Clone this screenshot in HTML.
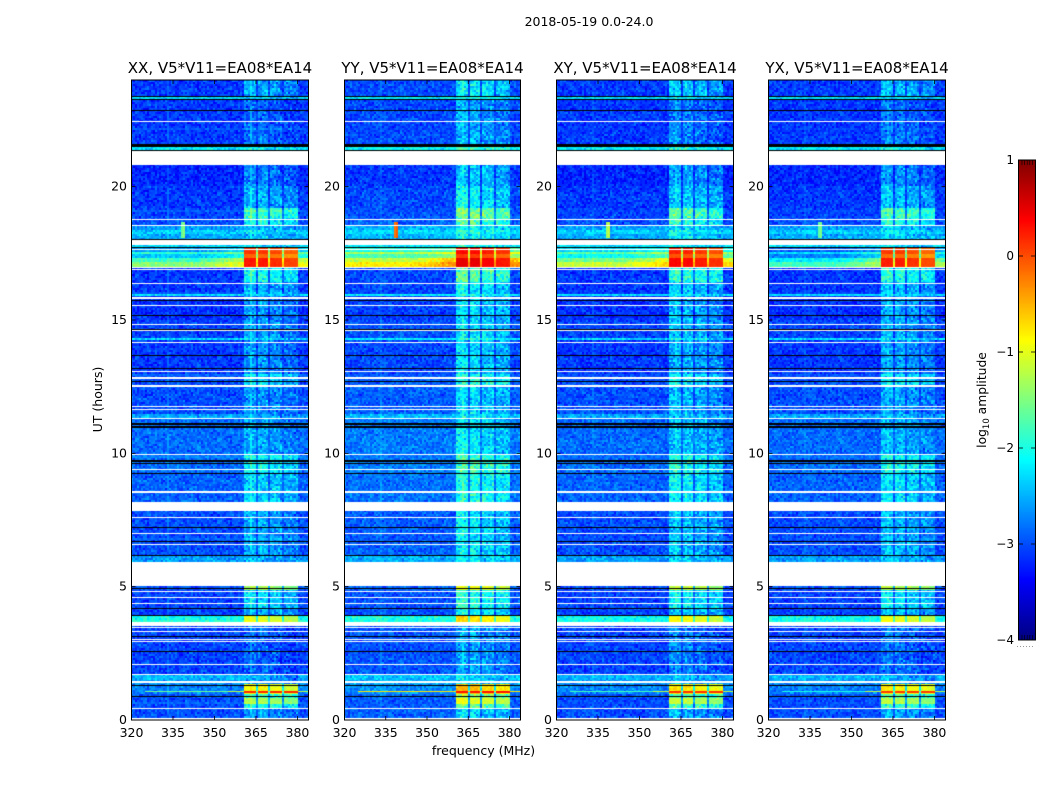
<!DOCTYPE html>
<html lang="en">
<head>
<meta charset="utf-8">
<title>2018-05-19 spectrogram panels</title>
<style>
html,body{margin:0;padding:0;background:#fff;}
#figure{position:relative;width:1050px;height:800px;overflow:hidden;background:#fff;}
canvas{position:absolute;}
svg{position:absolute;left:0;top:0;}
text{font-family:"DejaVu Sans","Liberation Sans",sans-serif;fill:#000;}
</style>
</head>
<body>
<div id="figure">
<canvas id="cv0"></canvas>
<canvas id="cv1"></canvas>
<canvas id="cv2"></canvas>
<canvas id="cv3"></canvas>
<canvas id="cvbar"></canvas>
<svg id="ov" width="1050" height="800" viewBox="0 0 1050 800">
<text x="589" y="26" font-size="12.5" text-anchor="middle">2018-05-19 0.0-24.0</text>
<text x="483.5" y="755" font-size="12.5" text-anchor="middle">frequency (MHz)</text>
<text transform="translate(102,399.5) rotate(-90)" font-size="12.5" text-anchor="middle">UT (hours)</text>
<text transform="translate(986,400) rotate(-90)" font-size="12.3" text-anchor="middle">log<tspan font-size="8.5" dy="3">10</tspan><tspan dy="-3"> amplitude</tspan></text>
</svg>
</div>
<script>
/* ---- chart data ---- */
var panelTitles = ["XX, V5*V11=EA08*EA14","YY, V5*V11=EA08*EA14","XY, V5*V11=EA08*EA14","YX, V5*V11=EA08*EA14"];
var freqTicks = [320,335,350,365,380];
var hourTicks = [0,5,10,15,20];
var colorTicks = [1,0,-1,-2,-3,-4];

/* spectral windows (MHz) */
var windowStart = [360.4,365.8,370.5,375.6];
var windowEnd = [365.0,369.8,374.9,380.0];
var windowTrim = [0.02,0.02,-0.08,-0.2];

/* time segments: start hour, log10 amplitude off-band, log10 amplitude in-band, ramp toward band, strong-RFI flag */
var segmentStart = [0,0.47,0.6,0.85,0.98,1.37,1.48,1.72,3.69,3.88,4.2,4.9,5.04,5.91,6.17,8.19,9.3,10,11,11.3,11.5,12.5,13,14.26,14.33,15,15.87,15.95,16.4,16.97,17.2,17.3,17.45,17.5,17.55,17.72,18,18.2,18.4,18.55,18.8,19.2,20,20.82,21.35,21.5,22.45,23.26,23.38];
var segmentOff   = [-3.0,-3.0,-3.0,-2.95,-2.75,-2.6,-2.5,-3.05,-2.05,-3.05,-3.05,-3.0,-2.6,-2.6,-3.0,-2.9,-2.85,-2.85,-2.85,-2.55,-3.0,-3.0,-3.1,-2.3,-3.05,-3.15,-2.25,-3.1,-3.1,-1.45,-1.85,-2.4,-2.5,-1.95,-2.6,-2.3,-2.55,-2.35,-2.6,-3.0,-3.05,-3.1,-3.2,-2.5,-2.2,-3.1,-3.1,-2.3,-3.1];
var segmentBand  = [-2.65,-1.95,-1.3,-1.8,-0.9,-2.65,-2.6,-2.9,-1.05,-2.5,-2.3,-1.3,-2.65,-2.55,-2.55,-2.35,-2.15,-2.55,-2.6,-2.55,-2.65,-2.3,-2.65,-2.3,-2.6,-2.65,-2.3,-2.5,-2.05,0.25,0.25,-0.15,0.1,0.1,0.1,-2.3,-2.4,-2.3,-2.45,-2.1,-1.85,-2.5,-2.75,-2.65,-2.2,-2.85,-2.9,-2.35,-2.55];
var segmentRise  = [0,0,0,0,0,0,0,0,0,0,0,0,0,0,0,0,0,0,0,0,0,0,0,0,0,0,0,0,0,0.5,0.6,0.4,0.3,0.4,0.3,0,0,0,0,0,0,0,0,0,0,0,0,0,0];
var segmentStrong= [0,0,0,0,0,0,0,0,0,0,0,0,0,0,0,0,0,0,0,0,0,0,0,0,0,0,0,0,0,1,1,1,1,1,1,0,0,0,0,0,0,0,0,0,0,0,0,0,0];

/* per-polarisation adjustments (XX, YY, XY, YX) */
var panelBandGain = [0,0.32,0.12,0.06];
var panelOffGain = [0,0.08,0,0];
var panelStrongOff = [0,0.55,0.3,-0.35];
var panelStrongBand = [0,0.12,0.05,-0.05];

/* narrowband RFI */
var spikeFreq = 339;
var spikeFrom = 18.05;
var spikeTo = 18.65;
var spikeLevel = [-1.25,0.15,-0.95,-1.3];
var lineHour = 1.1;
var lineOff = [-1.6,-0.75,-1.8,-2.0];
var lineBand = [0.2,0.3,0.15,0.1];

/* flagged times (hours) */
var whiteLines = [22.45,18.78,18.55,17.63,16.96,16.88,16.37,15.56,14.85,14.59,14.14,13.06,12.56,12.50,11.76,11.66,11.29,9.94,8.58,8.52,7.60,6.98,6.57,4.83,4.58,4.36,3.48,3.32,3.02,2.94,2.07,1.72,0.44,0.07,0.02];
var blackLines = [23.38,23.26,22.86,21.36,18.03,17.73,15.72,15.16,14.64,13.66,13.17,12.70,9.61,9.25,7.23,6.69,6.17,4.93,4.17,3.92,3.13,2.56,2.08,1.28,0.89];
var gapStart = [20.82,17.80,15.80,12.80,9.36,7.85,5.04,3.54,1.38];
var gapEnd = [21.35,18.00,15.87,12.88,9.43,8.19,5.91,3.69,1.48];
var darkStart = [21.50,11.07,10.96,9.69];
var darkEnd = [21.59,11.13,11.01,9.76];

/* fine-grain texture table for the cell noise (log10 offsets) */
var speckle = [0.12,-0.34,0.28,-0.08,0.41,-0.22,0.05,-0.41,0.19,0.33,-0.15,-0.29,0.09,0.37,-0.05,-0.38,0.24,-0.12,0.46,-0.26,0.02,0.16,-0.44,0.31,-0.18,0.07,-0.31,0.22,0.39,-0.09,-0.24,0.14,-0.36,0.27,-0.02,0.34,-0.2,-0.47,0.11,0.2,-0.13];

/* ---- layout and scales ---- */
var panelLeft = [131,344,556,768];
var panelWidth = [177,176,177,177];
var plotTop = 80;
var plotHeight = 640;
var freqMin = 320, freqMax = 384, hourMin = 0, hourMax = 24;
var barLeft = 1019, barTop = 160, barWidth = 16, barHeight = 480;
var NS = "http://www.w3.org/2000/svg";
var ov = document.getElementById("ov");

function xScale(f, w){ return (f - freqMin) / (freqMax - freqMin) * w; }
function yScale(h){ return plotHeight - (h - hourMin) / (hourMax - hourMin) * plotHeight; }
function levelY(v){ return barTop + (1 - v) / 5 * barHeight; }
function clamp(v){ return v < 0 ? 0 : v > 1 ? 1 : v; }
function jet(level){
  var v = clamp((level + 4) / 5);
  var r = clamp(1.5 - Math.abs(4 * v - 3));
  var g = clamp(1.5 - Math.abs(4 * v - 2));
  var b = clamp(1.5 - Math.abs(4 * v - 1));
  return "rgb(" + Math.round(r * 255) + "," + Math.round(g * 255) + "," + Math.round(b * 255) + ")";
}
function segmentAt(h){
  var k = 0;
  for (var s = 0; s < segmentStart.length; s++) { if (h >= segmentStart[s]) k = s; }
  return k;
}
function windowAt(f){
  for (var b = 0; b < windowStart.length; b++) { if (f >= windowStart[b] && f <= windowEnd[b]) return b; }
  return -1;
}
function cellNoise(i, j, p){
  var n = speckle.length;
  var a = speckle[(i * 17 + j * j * 5 + i * j * 3 + p * 11) % n];
  var b = speckle[(j * 23 + i * i * 7 + i * j + p * 5) % n];
  return (a + b) * 0.75;
}
function cellLevel(p, f, h, i, j){
  var k = segmentAt(h);
  var strong = segmentStrong[k];
  var off = segmentOff[k] + panelOffGain[p] + (strong ? panelStrongOff[p] : 0);
  if (f > 345) off += segmentRise[k] * Math.min(1, (f - 345) / 15);
  var win = windowAt(f);
  var level, noise = cellNoise(i, j, p);
  if (win >= 0) {
    level = segmentBand[k] + windowTrim[win] + panelBandGain[p] * (strong ? 0.3 : 1) + (strong ? panelStrongBand[p] : 0);
    noise *= strong ? 0.1 : (segmentBand[k] > -1.5 ? 0.3 : 0.8);
  } else if (f > windowStart[0] && f < windowEnd[3]) {
    level = Math.max(off, off * 0.6 + (segmentBand[k] - 0.6) * 0.4);
    noise *= strong ? 0.2 : 0.4;
  } else {
    level = off;
    noise *= strong ? 0.4 : 0.55;
  }
  if (Math.abs(f - spikeFreq) < 0.7 && h >= spikeFrom && h <= spikeTo) {
    level = spikeLevel[p] - Math.abs(f - spikeFreq) * 0.8;
    noise = 0;
  }
  return level + noise;
}

/* ---- heatmaps ---- */
panelLeft.forEach(function(left, p){
  var w = panelWidth[p];
  var cv = document.getElementById("cv" + p);
  cv.width = w; cv.height = plotHeight;
  cv.style.left = left + "px"; cv.style.top = plotTop + "px";
  var c = cv.getContext("2d");
  c.fillStyle = "#fff"; c.fillRect(0, 0, w, plotHeight);
  var nChan = 88, nRow = 320;
  for (var j = 0; j < nRow; j++) {
    var h0 = hourMin + j * (hourMax - hourMin) / nRow;
    var h1 = hourMin + (j + 1) * (hourMax - hourMin) / nRow;
    var yTop = Math.round(yScale(h1)), yBot = Math.round(yScale(h0));
    for (var i = 0; i < nChan; i++) {
      var f0 = freqMin + i * (freqMax - freqMin) / nChan;
      var f1 = freqMin + (i + 1) * (freqMax - freqMin) / nChan;
      var x0 = Math.round(xScale(f0, w)), x1 = Math.round(xScale(f1, w));
      c.fillStyle = jet(cellLevel(p, (f0 + f1) / 2, (h0 + h1) / 2, i, j));
      c.fillRect(x0, yTop, x1 - x0, yBot - yTop);
    }
  }
  /* narrowband line */
  for (var n = 0; n < nChan; n++) {
    var fa = freqMin + n * (freqMax - freqMin) / nChan;
    var fb = freqMin + (n + 1) * (freqMax - freqMin) / nChan;
    var fm = (fa + fb) / 2;
    if (fm < 325) continue;
    var inWin = windowAt(fm) >= 0;
    var rampLevel = fm > 355 ? -1.2 : lineOff[p];
    c.fillStyle = jet(inWin ? lineBand[p] : Math.max(rampLevel, lineOff[p]));
    c.fillRect(Math.round(xScale(fa, w)), Math.round(yScale(lineHour)), Math.round(xScale(fb, w)) - Math.round(xScale(fa, w)), inWin ? 2 : 1);
  }
  /* flags */
  c.fillStyle = "#000";
  blackLines.forEach(function(h){ c.fillRect(0, Math.floor(yScale(h)), w, 1); });
  darkStart.forEach(function(h, q){ var a = Math.round(yScale(darkEnd[q])), b = Math.round(yScale(h)); c.fillRect(0, a, w, b - a); });
  c.fillStyle = "#fff";
  whiteLines.forEach(function(h){ c.fillRect(0, Math.floor(yScale(h)), w, 1); });
  gapStart.forEach(function(h, q){ var a = Math.round(yScale(gapEnd[q])), b = Math.round(yScale(h)); c.fillRect(0, a, w, b - a); });

  /* frame, title, ticks */
  var frame = document.createElementNS(NS, "rect");
  
  
  frame.setAttribute("x", left + 0.5); frame.setAttribute("y", plotTop);
  frame.setAttribute("width", w); frame.setAttribute("height", plotHeight);
  frame.setAttribute("fill", "none"); frame.setAttribute("stroke", "#000"); frame.setAttribute("stroke-width", "1");
  ov.appendChild(frame);

  var title = document.createElementNS(NS, "text");
  
  
  title.setAttribute("x", left + w / 2 + 0.5); title.setAttribute("y", 73);
  title.setAttribute("font-size", "15"); title.setAttribute("text-anchor", "middle");
  title.textContent = panelTitles[p];
  ov.appendChild(title);

  freqTicks.forEach(function(f){
    var x = left + xScale(f, w) + 0.5;
    [[plotTop + plotHeight, plotTop + plotHeight - 4], [plotTop, plotTop + 4]].forEach(function(seg){
      var t = document.createElementNS(NS, "line");
      
      
      t.setAttribute("x1", x); t.setAttribute("x2", x); t.setAttribute("y1", seg[0]); t.setAttribute("y2", seg[1]);
      t.setAttribute("stroke", "#000"); t.setAttribute("stroke-width", "0.8");
      ov.appendChild(t);
    });
    var lab = document.createElementNS(NS, "text");
    
    
    lab.setAttribute("x", x); lab.setAttribute("y", 737);
    lab.setAttribute("font-size", "12.5"); lab.setAttribute("text-anchor", "middle");
    lab.textContent = String(f);
    ov.appendChild(lab);
  });
  hourTicks.forEach(function(hr){
    var y = plotTop + yScale(hr);
    [[left, left + 4], [left + w, left + w - 4]].forEach(function(seg){
      var t = document.createElementNS(NS, "line");
      
      
      t.setAttribute("x1", seg[0] + 0.5); t.setAttribute("x2", seg[1] + 0.5); t.setAttribute("y1", y); t.setAttribute("y2", y);
      t.setAttribute("stroke", "#000"); t.setAttribute("stroke-width", "0.8");
      ov.appendChild(t);
    });
    var lab = document.createElementNS(NS, "text");
    
    
    lab.setAttribute("x", left - 4); lab.setAttribute("y", y + 4);
    lab.setAttribute("font-size", "12.5"); lab.setAttribute("text-anchor", "end");
    lab.textContent = String(hr);
    ov.appendChild(lab);
  });
});

/* ---- colorbar ---- */
(function(){
  var cv = document.getElementById("cvbar");
  cv.width = barWidth; cv.height = barHeight;
  cv.style.left = barLeft + "px"; cv.style.top = barTop + "px";
  var c = cv.getContext("2d");
  for (var y = 0; y < barHeight; y++) {
    c.fillStyle = jet(1 - (y + 0.5) / barHeight * 5);
    c.fillRect(0, y, barWidth, 1);
  }
  var frame = document.createElementNS(NS, "rect");
  
  
  frame.setAttribute("x", barLeft - 0.5); frame.setAttribute("y", barTop);
  frame.setAttribute("width", barWidth + 1); frame.setAttribute("height", barHeight);
  frame.setAttribute("fill", "none"); frame.setAttribute("stroke", "#000");
  ov.appendChild(frame);
  colorTicks.forEach(function(v){
    var y = levelY(v);
    [[barLeft, barLeft + 4], [barLeft + barWidth, barLeft + barWidth - 4]].forEach(function(seg){
      var t = document.createElementNS(NS, "line");
      
      
      t.setAttribute("x1", seg[0]); t.setAttribute("x2", seg[1]); t.setAttribute("y1", y); t.setAttribute("y2", y);
      t.setAttribute("stroke", "#000"); t.setAttribute("stroke-width", "0.8");
      ov.appendChild(t);
    });
    var lab = document.createElementNS(NS, "text");
    
    
    lab.setAttribute("x", barLeft - 5); lab.setAttribute("y", y + 4);
    lab.setAttribute("font-size", "12"); lab.setAttribute("text-anchor", "end");
    lab.textContent = v < 0 ? "\u2212" + Math.abs(v) : String(v);
    ov.appendChild(lab);
  });
  [0,1,2,3,4].forEach(function(m){
    var x = barLeft + 3 + m * 2.6;
    [[barTop, barTop + 5], [barTop + barHeight, barTop + barHeight - 5]].forEach(function(seg){
      var t = document.createElementNS(NS, "line");
      
      
      t.setAttribute("x1", x); t.setAttribute("x2", x); t.setAttribute("y1", seg[0]); t.setAttribute("y2", seg[1]);
      t.setAttribute("stroke", "#000"); t.setAttribute("stroke-width", "0.6");
      ov.appendChild(t);
    });
  });
  var dots = document.createElementNS(NS, "line");
  
  
  dots.setAttribute("x1", 1017); dots.setAttribute("x2", 1035); dots.setAttribute("y1", 646.5); dots.setAttribute("y2", 646.5);
  dots.setAttribute("stroke", "#999"); dots.setAttribute("stroke-width", "1"); dots.setAttribute("stroke-dasharray", "1 2");
  ov.appendChild(dots);
})();
</script>
</body>
</html>
